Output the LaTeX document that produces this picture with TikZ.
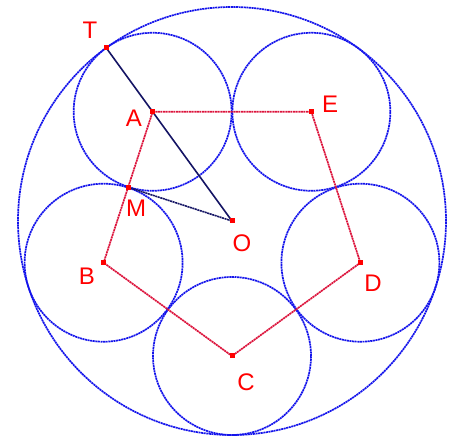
\documentclass[tikz,border=0pt]{standalone}
\usepackage{fontspec}
\setmainfont{Liberation Sans}
\usetikzlibrary{calc}
\begin{document}
\begin{tikzpicture}[x=1pt,y=1pt,
  circ/.style={draw={rgb,255:red,20;green,20;blue,235}, line width=1.7pt, dash pattern=on 2pt off 0.6pt},
  side/.style={draw={rgb,255:red,220;green,20;blue,60}, line width=1.7pt, dash pattern=on 2pt off 0.6pt},
  ray/.style={draw={rgb,255:red,20;green,20;blue,100}, line width=1.6pt},
  rayd/.style={draw={rgb,255:red,20;green,20;blue,100}, line width=1.6pt, dash pattern=on 2pt off 0.6pt},
  pt/.style={fill=red, minimum size=5pt, inner sep=0pt, draw=none, rectangle},
  lbl/.style={text=red, font=\fontsize{24}{24}\selectfont, inner sep=0pt}]
\useasboundingbox (0,0) rectangle (449,436);
\coordinate (O) at (232,215);
\coordinate (A) at ($(O)+(126:135)$);
\coordinate (B) at ($(O)+(198:135)$);
\coordinate (C) at ($(O)+(270:135)$);
\coordinate (D) at ($(O)+(342:135)$);
\coordinate (E) at ($(O)+(54:135)$);
\coordinate (T) at ($(O)+(126:214)$);
\coordinate (M) at ($(A)!0.5!(B)$);
% circles
\draw[circ] (O) circle[radius=214];
\foreach \p in {A,B,C,D,E} \draw[circ] (\p) circle[radius=79];
% pentagon
\draw[side] (A) -- (E) -- (D) -- (C) -- (B) -- cycle;
% rays
\draw[ray] (T) -- (O);
\draw[rayd] (M) -- (O);
% points
\foreach \p in {A,B,C,D,E,O,T,M} \node[pt] (p\p) at (\p) {};
% labels
\node[lbl] (lT) at (90,406) {T};
\node[lbl] (lA) at (134,318) {A};
\node[lbl] (lE) at (330,332) {E};
\node[lbl] (lD) at (373,153) {D};
\node[lbl] (lC) at (246,54) {C};
\node[lbl] (lB) at (87,160) {B};
\node[lbl] (lO) at (242,193) {O};
\node[lbl] (lM) at (136,228) {M};
\end{tikzpicture}
\end{document}
